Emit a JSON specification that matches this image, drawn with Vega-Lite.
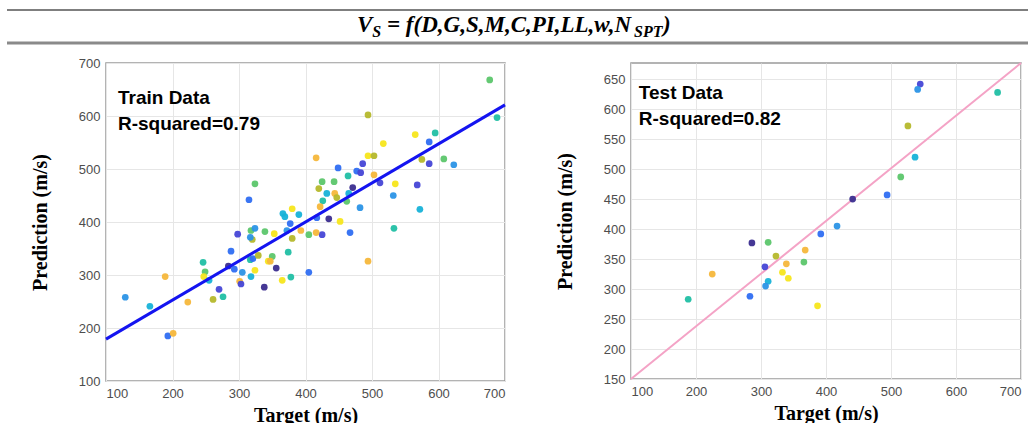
{
  "$schema": "https://vega.github.io/schema/vega-lite/v6.json",
  "padding": {"left": 5, "top": 0, "right": 0, "bottom": 0},
  "background": "white",
  "datasets": {
    "train": [
      {"t":129,"p":258,"k":3},{"t":166,"p":241,"k":4},{"t":189,"p":297,"k":8},{"t":193,"p":185,"k":2},{"t":201,"p":190,"k":8},
      {"t":223,"p":249,"k":8},{"t":246,"p":324,"k":5},{"t":249,"p":306,"k":6},{"t":247,"p":297,"k":9},{"t":255,"p":290,"k":4},
      {"t":261,"p":254,"k":7},{"t":270,"p":273,"k":1},{"t":276,"p":259,"k":5},{"t":288,"p":345,"k":2},{"t":284,"p":317,"k":0},
      {"t":293,"p":311,"k":2},{"t":298,"p":377,"k":1},{"t":301,"p":288,"k":8},{"t":303,"p":283,"k":1},{"t":305,"p":305,"k":3},
      {"t":318,"p":384,"k":6},{"t":324,"p":388,"k":3},{"t":320,"p":367,"k":7},{"t":317,"p":371,"k":3},{"t":339,"p":382,"k":6},
      {"t":353,"p":378,"k":9},{"t":372,"p":384,"k":3},{"t":377,"p":397,"k":2},{"t":393,"p":384,"k":8},{"t":380,"p":369,"k":7},
      {"t":405,"p":376,"k":6},{"t":317,"p":329,"k":5},{"t":321,"p":331,"k":2},{"t":329,"p":337,"k":7},{"t":350,"p":335,"k":6},
      {"t":318,"p":297,"k":4},{"t":324,"p":309,"k":9},{"t":344,"p":326,"k":9},{"t":347,"p":326,"k":8},{"t":356,"p":313,"k":0},
      {"t":338,"p":277,"k":0},{"t":365,"p":290,"k":9},{"t":378,"p":296,"k":5},{"t":374,"p":343,"k":5},{"t":405,"p":305,"k":2},
      {"t":369,"p":410,"k":4},{"t":324,"p":472,"k":6},{"t":315,"p":442,"k":2},{"t":366,"p":416,"k":4},{"t":380,"p":425,"k":9},
      {"t":390,"p":414,"k":4},{"t":417,"p":408,"k":2},{"t":435,"p":406,"k":0},{"t":452,"p":401,"k":9},{"t":425,"p":376,"k":1},
      {"t":416,"p":380,"k":8},{"t":467,"p":380,"k":2},{"t":533,"p":388,"k":5},{"t":494,"p":326,"k":8},{"t":416,"p":521,"k":8},
      {"t":449,"p":502,"k":2},{"t":486,"p":510,"k":1},{"t":494,"p":525,"k":9},{"t":503,"p":525,"k":7},{"t":477,"p":496,"k":2},
      {"t":483,"p":493,"k":1},{"t":464,"p":487,"k":5},{"t":503,"p":489,"k":8},{"t":471,"p":465,"k":0},{"t":425,"p":476,"k":6},
      {"t":443,"p":476,"k":6},{"t":420,"p":463,"k":7},{"t":432,"p":454,"k":4},{"t":444,"p":454,"k":8},{"t":447,"p":446,"k":7},
      {"t":426,"p":440,"k":5},{"t":422,"p":429,"k":8},{"t":462,"p":439,"k":6},{"t":465,"p":454,"k":4},{"t":482,"p":427,"k":3},
      {"t":494,"p":602,"k":7},{"t":565,"p":565,"k":9},{"t":595,"p":568,"k":5},{"t":586,"p":551,"k":2},{"t":517,"p":548,"k":9},
      {"t":575,"p":518,"k":7},{"t":586,"p":510,"k":1},{"t":608,"p":519,"k":6},{"t":623,"p":508,"k":3},{"t":512,"p":474,"k":1},
      {"t":535,"p":472,"k":9},{"t":568,"p":470,"k":1},{"t":532,"p":450,"k":3},{"t":572,"p":424,"k":4},{"t":677,"p":668,"k":6},
      {"t":688,"p":597,"k":5}
    ],
    "test": [
      {"t":188,"p":283,"k":5},{"t":225,"p":325,"k":8},{"t":283,"p":288,"k":2},{"t":286,"p":377,"k":0},{"t":311,"p":378,"k":6},
      {"t":323,"p":355,"k":7},{"t":306,"p":337,"k":1},{"t":311,"p":313,"k":4},{"t":307,"p":305,"k":3},{"t":339,"p":342,"k":8},
      {"t":333,"p":328,"k":9},{"t":342,"p":318,"k":9},{"t":417,"p":405,"k":3},{"t":392,"p":392,"k":2},{"t":368,"p":365,"k":8},
      {"t":366,"p":345,"k":6},{"t":387,"p":272,"k":9},{"t":545,"p":642,"k":1},{"t":541,"p":633,"k":3},{"t":664,"p":628,"k":5},
      {"t":526,"p":572,"k":7},{"t":537,"p":520,"k":4},{"t":515,"p":487,"k":6},{"t":494,"p":457,"k":2},{"t":441,"p":450,"k":0}
    ],
    "formula": [
      {"piece": "V", "role": "main", "pos": 251},
      {"piece": "S", "role": "sub", "pos": 266.3},
      {"piece": "= f(D,G,S,M,C,PI,LL,w,N", "role": "main", "pos": 281},
      {"piece": "SPT", "role": "sub", "pos": 528},
      {"piece": ")", "role": "main", "pos": 557}
    ]
  },
  "config": {
    "font": "Liberation Sans",
    "view": {"stroke": "#9a9a9a", "strokeWidth": 1.5},
    "axis": {
      "labelFont": "Liberation Sans",
      "labelFontSize": 13,
      "labelColor": "#4d4d4d",
      "labelPadding": 6,
      "labelOverlap": false,
      "titleFont": "Liberation Serif",
      "titleFontSize": 20,
      "titleFontWeight": "bold",
      "titleColor": "#000000",
      "domain": false,
      "ticks": false,
      "gridColor": "#e6e6e6",
      "gridWidth": 1
    },
    "axisX": {"titlePadding": 5},
    "axisY": {"titlePadding": 28}
  },
  "spacing": 11,
  "vconcat": [
    {
      "width": 924,
      "height": 45,
      "view": {"stroke": null},
      "layer": [
        {
          "data": {"values": [{}]},
          "mark": {"type": "rule", "color": "#555555", "strokeWidth": 1.5},
          "encoding": {
            "x": {"datum": -99, "type": "quantitative", "scale": {"domain": [0, 924], "nice": false}, "axis": null},
            "x2": {"datum": 924},
            "y": {"datum": 35, "type": "quantitative", "scale": {"domain": [0, 45], "nice": false}, "axis": null}
          }
        },
        {
          "data": {"values": [{}]},
          "mark": {"type": "rule", "color": "#8a8a8a", "strokeWidth": 3},
          "encoding": {
            "x": {"datum": -99, "type": "quantitative"},
            "x2": {"datum": 924},
            "y": {"datum": 2, "type": "quantitative"}
          }
        },
        {
          "data": {"name": "formula"},
          "transform": [{"filter": "datum.role === 'main'"}],
          "mark": {"type": "text", "font": "Liberation Serif", "fontSize": 23, "fontWeight": "bold", "fontStyle": "italic", "align": "left", "baseline": "alphabetic", "color": "#000000"},
          "encoding": {
            "x": {"field": "pos", "type": "quantitative"},
            "y": {"datum": 13, "type": "quantitative"},
            "text": {"field": "piece"}
          }
        },
        {
          "data": {"name": "formula"},
          "transform": [{"filter": "datum.role === 'sub'"}],
          "mark": {"type": "text", "font": "Liberation Serif", "fontSize": 16, "fontWeight": "bold", "fontStyle": "italic", "align": "left", "baseline": "alphabetic", "color": "#000000"},
          "encoding": {
            "x": {"field": "pos", "type": "quantitative"},
            "y": {"datum": 8, "type": "quantitative"},
            "text": {"field": "piece"}
          }
        }
      ]
    },
    {
      "spacing": 42,
      "hconcat": [
        {
          "width": 399,
          "height": 318,
          "layer": [
            {
              "data": {"name": "train"},
              "encoding": {
                "x": {"field": "t", "type": "quantitative", "scale": {"domain": [100, 700], "nice": false}, "axis": {"title": "Target (m/s)", "values": [100, 200, 300, 400, 500, 600, 700], "labelOverlap": false}},
                "y": {"field": "p", "type": "quantitative", "scale": {"domain": [100, 700], "nice": false}, "axis": {"title": "Prediction (m/s)", "values": [100, 200, 300, 400, 500, 600, 700], "labelOverlap": false}}
              },
              "layer": [
                {
                  "mark": {"type": "point", "filled": true, "size": 45, "opacity": 0.95},
                  "encoding": {
                    "color": {"field": "k", "type": "ordinal", "scale": {"domain": [0,1,2,3,4,5,6,7,8,9], "range": ["#3b2d8f","#4646d6","#2f6ef2","#2b94e6","#17b2d8","#21bfa4","#5cc66b","#b5b82c","#f6b73b","#f7e61c"]}, "legend": null}
                  }
                },
                {
                  "data": {"values": [{"t": 100, "p": 179}, {"t": 700, "p": 621}]},
                  "mark": {"type": "line", "color": "#1414f0", "strokeWidth": 3},
                  "encoding": {}
                }
              ]
            },
            {
              "data": {"values": [{"label": "Train Data"}]},
              "mark": {"type": "text", "align": "left", "baseline": "alphabetic", "fontSize": 19, "fontWeight": "bold", "font": "Liberation Sans", "color": "#000000"},
              "encoding": {
                "x": {"datum": 118, "type": "quantitative"},
                "y": {"datum": 623, "type": "quantitative"},
                "text": {"field": "label"}
              }
            },
            {
              "data": {"values": [{"label": "R-squared=0.79"}]},
              "mark": {"type": "text", "align": "left", "baseline": "alphabetic", "fontSize": 19, "fontWeight": "bold", "font": "Liberation Sans", "color": "#000000"},
              "encoding": {
                "x": {"datum": 118, "type": "quantitative"},
                "y": {"datum": 574, "type": "quantitative"},
                "text": {"field": "label"}
              }
            }
          ]
        },
        {
          "width": 390,
          "height": 316,
          "layer": [
            {
              "data": {"name": "test"},
              "encoding": {
                "x": {"field": "t", "type": "quantitative", "scale": {"domain": [100, 700], "nice": false}, "axis": {"title": "Target (m/s)", "values": [100, 200, 300, 400, 500, 600, 700], "labelOverlap": false}},
                "y": {"field": "p", "type": "quantitative", "scale": {"domain": [150, 677], "nice": false}, "axis": {"title": "Prediction (m/s)", "values": [150, 200, 250, 300, 350, 400, 450, 500, 550, 600, 650], "labelOverlap": false, "tickCount": 11}}
              },
              "layer": [
                {
                  "data": {"values": [{"t": 100, "p": 150}, {"t": 700, "p": 677}]},
                  "mark": {"type": "line", "color": "#f4a3c6", "strokeWidth": 2},
                  "encoding": {}
                },
                {
                  "mark": {"type": "point", "filled": true, "size": 45, "opacity": 0.95},
                  "encoding": {
                    "color": {"field": "k", "type": "ordinal", "scale": {"domain": [0,1,2,3,4,5,6,7,8,9], "range": ["#3b2d8f","#4646d6","#2f6ef2","#2b94e6","#17b2d8","#21bfa4","#5cc66b","#b5b82c","#f6b73b","#f7e61c"]}, "legend": null}
                  }
                }
              ]
            },
            {
              "data": {"values": [{"label": "Test Data"}]},
              "mark": {"type": "text", "align": "left", "baseline": "alphabetic", "fontSize": 19, "fontWeight": "bold", "font": "Liberation Sans", "color": "#000000"},
              "encoding": {
                "x": {"datum": 112, "type": "quantitative"},
                "y": {"datum": 617, "type": "quantitative"},
                "text": {"field": "label"}
              }
            },
            {
              "data": {"values": [{"label": "R-squared=0.82"}]},
              "mark": {"type": "text", "align": "left", "baseline": "alphabetic", "fontSize": 19, "fontWeight": "bold", "font": "Liberation Sans", "color": "#000000"},
              "encoding": {
                "x": {"datum": 112, "type": "quantitative"},
                "y": {"datum": 573, "type": "quantitative"},
                "text": {"field": "label"}
              }
            }
          ]
        }
      ]
    }
  ]
}
